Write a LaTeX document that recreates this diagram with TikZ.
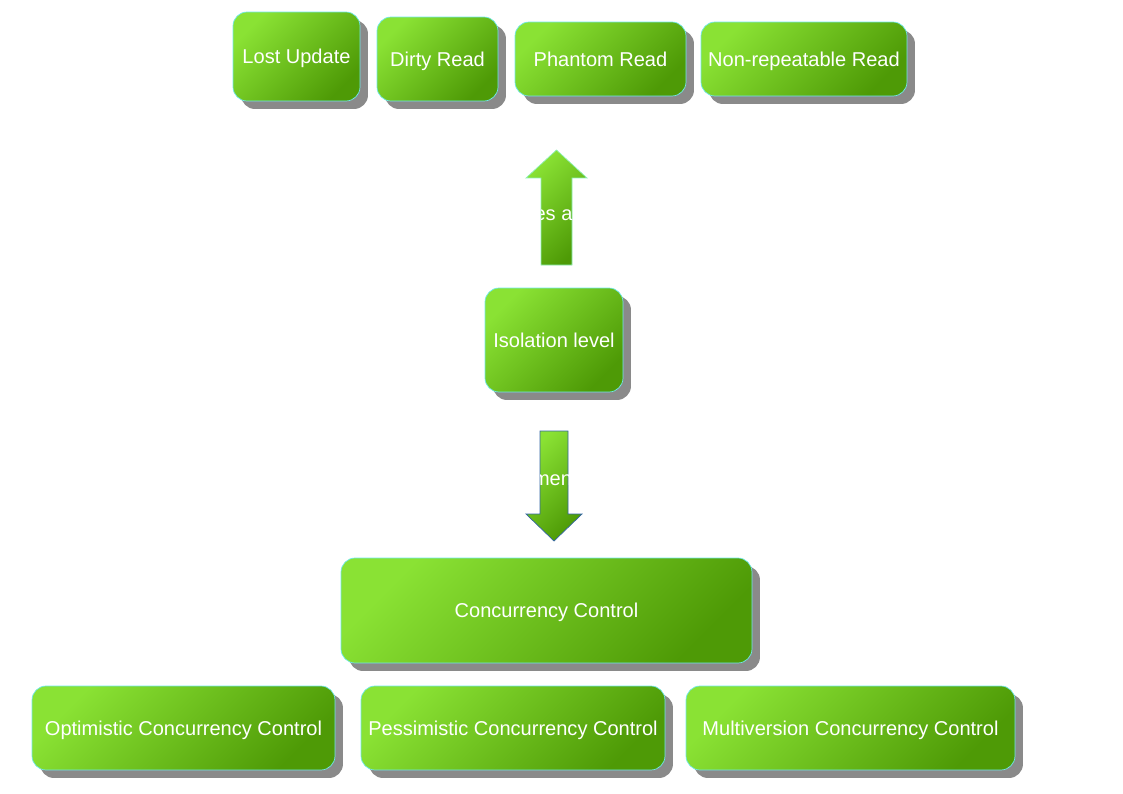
\documentclass[tikz,border=0pt]{standalone}
\usepackage{fontspec}
\setmainfont{Liberation Sans}
\usetikzlibrary{shadows}

\definecolor{boxlight}{HTML}{8AE234}
\definecolor{boxdark}{HTML}{4E9A06}
\definecolor{boxline}{HTML}{6EE8E8}
\definecolor{shadowgray}{HTML}{8A8A8A}
\definecolor{upline}{HTML}{8FF0B8}
\definecolor{downline}{HTML}{3465A4}

\begin{document}
\begin{tikzpicture}[x=0.02cm, y=-0.02cm,
    greenfill/.style={top color=boxlight, bottom color=boxdark, shading angle=45},
    box/.style={rectangle, rounded corners=0.28cm, draw=boxline, greenfill,
      drop shadow={shadow xshift=0.16cm, shadow yshift=-0.16cm, fill=shadowgray, opacity=1},
      text=white, inner sep=0pt, text depth=0pt, font=\fontsize{11.4}{13.7}\selectfont},
    arrowtext/.style={text=white, inner sep=0pt, font=\fontsize{11.4}{13.7}\selectfont}
    ]
    \useasboundingbox (0,0) rectangle (1123,794);

    % anomalies
    \node[box, minimum width=2.54cm, minimum height=1.78cm] (lost) at (296.5,56.5) {Lost Update};
    \node[box, minimum width=2.42cm, minimum height=1.68cm] (dirty) at (437.5,59) {Dirty Read};
    \node[box, minimum width=3.42cm, minimum height=1.48cm] (phantom) at (600.5,59) {Phantom Read};
    \node[box, minimum width=4.12cm, minimum height=1.48cm] (nonrep) at (804,59) {Non-repeatable Read};

    % isolation level
    \node[box, minimum width=2.76cm, minimum height=2.08cm] (iso) at (554,340) {Isolation level};

    % concurrency control
    \node[box, minimum width=8.22cm, minimum height=2.10cm] (cc) at (546.5,610.5) {Concurrency Control};
    \node[box, minimum width=6.06cm, minimum height=1.68cm] (occ) at (183.5,728) {Optimistic Concurrency Control};
    \node[box, minimum width=6.08cm, minimum height=1.68cm] (pcc) at (513,728) {Pessimistic Concurrency Control};
    \node[box, minimum width=6.58cm, minimum height=1.68cm] (mvcc) at (850.5,728) {Multiversion Concurrency Control};

    % block arrows
    \path[greenfill, draw=upline] (541,265) -- (541,178) -- (526,178) -- (556.5,150)
      -- (587,178) -- (572,178) -- (572,265) -- cycle;
    \begin{scope}
      \clip (541,178) rectangle (572,265);
      \node[arrowtext] (uplabel) at (553.5,215) {es a};
    \end{scope}

    \path[greenfill, draw=downline] (540,431) -- (568,431) -- (568,514) -- (582,514)
      -- (554,541) -- (526,514) -- (540,514) -- cycle;
    \begin{scope}
      \clip (540,431) rectangle (568,514);
      \node[arrowtext] (downlabel) at (552.5,480) {men};
    \end{scope}
  \end{tikzpicture}
\end{document}
